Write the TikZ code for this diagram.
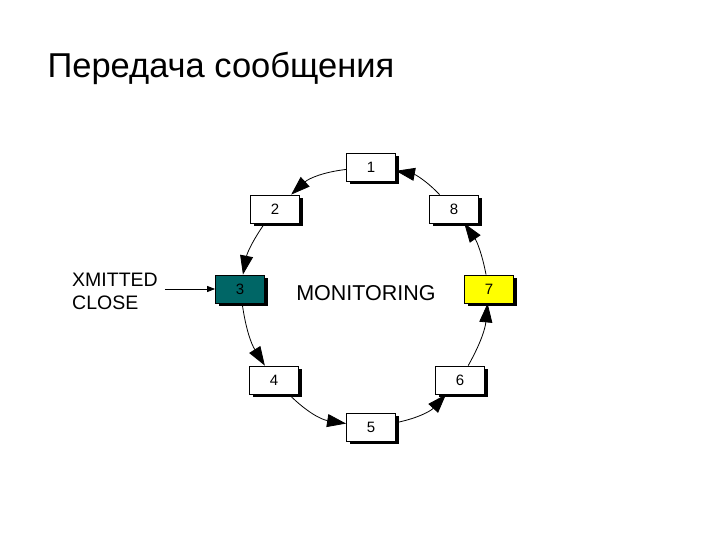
\documentclass[tikz,border=0pt]{standalone}
\usepackage{fontspec}
\setmainfont{Liberation Sans}
\usetikzlibrary{arrows.meta,shadows}
\begin{document}
\begin{tikzpicture}[x=1pt,y=1pt,
  box/.style={draw=black,line width=0.8pt,minimum width=49pt,minimum height=28pt,inner sep=0pt,font=\fontsize{15}{17}\selectfont,
    drop shadow={shadow xshift=3pt,shadow yshift=-3pt,fill=black,opacity=1}},
  flow/.style={line width=0.8pt,-{Triangle[length=19pt,width=13pt]}},
]
\useasboundingbox (0,0) rectangle (720,540);
\node[anchor=base west,font=\fontsize{34.5}{38}\selectfont] (title) at (44,462) {Передача сообщения};
\node[box,fill=white] (n1) at (371,373) {1};
\node[box,fill=white] (n2) at (275,331) {2};
\node[box,fill=white] (n8) at (454,331) {8};
\node[box,fill={rgb,255:red,0;green,102;blue,102}] (n3) at (240,251) {3};
\node[box,fill={rgb,255:red,255;green,255;blue,0}] (n7) at (489,251) {7};
\node[box,fill=white] (n4) at (274,160) {4};
\node[box,fill=white] (n6) at (460,160) {6};
\node[box,fill=white] (n5) at (371,113) {5};
\node[font=\fontsize{21.5}{24}\selectfont] (mon) at (366,247) {MONITORING};
\node[align=left,font=\fontsize{19.5}{23}\selectfont,anchor=west,inner sep=0pt] (xc) at (72,249) {XMITTED\\CLOSE};
\draw[line width=0.8pt,-{Triangle[length=8pt,width=6pt]}] (xc.east)++(7,2) coordinate (xs) -- (n3.west);
\draw[flow] (n1) to[bend right=18] (n2);
\draw[flow] (n2) to[bend right=12] (n3);
\draw[flow] (n3) to[bend right=12] (n4);
\draw[flow] (n4) to[bend right=18] (n5);
\draw[flow] (n5) to[bend right=18] (n6);
\draw[flow] (n6) to[bend right=12] (n7);
\draw[flow] (n7) to[bend right=12] (n8);
\draw[flow] (n8) to[bend right=18] (n1);
\end{tikzpicture}
\end{document}
